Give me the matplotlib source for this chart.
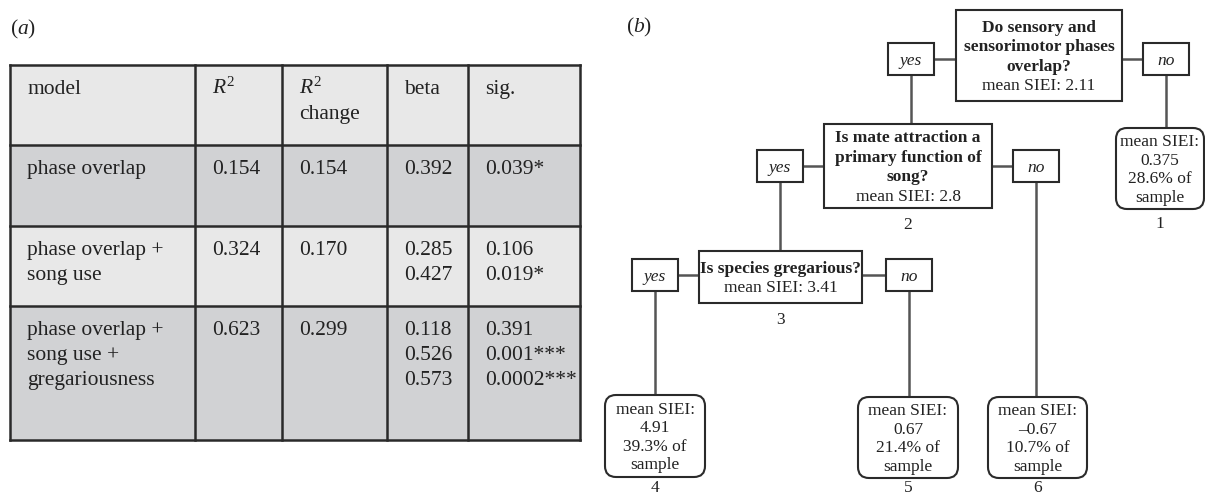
import matplotlib

matplotlib.use("Agg")
import matplotlib.pyplot as plt
from matplotlib.patches import FancyBboxPatch, Rectangle

plt.rcParams["font.family"] = ["Liberation Serif", "DejaVu Serif"]
plt.rcParams["mathtext.fontset"] = "custom"
plt.rcParams["mathtext.rm"] = "Liberation Serif"
plt.rcParams["mathtext.it"] = "Liberation Serif:italic"

# (a) hierarchical regression table
header = ["model", "$R^2$", "$R^2$\nchange", "beta", "sig."]
models = ["phase overlap", "phase overlap +\nsong use",
          "phase overlap +\nsong use +\ngregariousness"]
r_squared = ["0.154", "0.324", "0.623"]
r_squared_change = ["0.154", "0.170", "0.299"]
betas = [["0.392"], ["0.285", "0.427"], ["0.118", "0.526", "0.573"]]
sigs = [["0.039*"], ["0.106", "0.019*"], ["0.391", "0.001***", "0.0002***"]]

# (b) regression tree
questions = ["Do sensory and\nsensorimotor phases\noverlap?",
             "Is mate attraction a\nprimary function of\nsong?",
             "Is species gregarious?"]
question_means = ["2.11", "2.8", "3.41"]
question_ids = ["", "2", "3"]
leaf_means = ["0.375", "4.91", "0.67", "\u20130.67"]
leaf_shares = ["28.6", "39.3", "21.4", "10.7"]
leaf_ids = ["1", "4", "5", "6"]

# layout (pixels, origin top left)
W, H = 1205, 495
TABLE_X = [10, 195, 282, 387, 468, 580]
TABLE_Y = [65, 145, 226, 306, 440]
ROW_COLORS = ["#e8e8e8", "#d1d2d4", "#e8e8e8", "#d1d2d4"]
TABLE_FS = 15.5
TREE_FS = 12.5

QUESTION_BOXES = [(956, 10, 1122, 101), (824, 124, 992, 208), (699, 251, 862, 303)]
LEAF_BOXES = [(1116, 128, 1204, 209), (605, 395, 705, 477),
              (858, 397, 958, 478), (988, 397, 1087, 478)]
ANSWER_BOXES = [(911, 59, "yes"), (1166, 59, "no"), (780, 166, "yes"),
                (1036, 166, "no"), (655, 275, "yes"), (909, 275, "no")]
ANSWER_W, ANSWER_H = 46, 32
# child of each answer box: ("q", index) or ("leaf", index)
CHILDREN = [("q", 1), ("leaf", 0), ("q", 2), ("leaf", 3), ("leaf", 1), ("leaf", 2)]

EDGE = "#2a2a2a"
LINK = "#555555"
TEXT = "#222222"


def px(pt):
    return pt * 100 / 72


def text_lines(ax, x, yc, lines, spacing, fs, weights=None, **kw):
    """Write lines centred around yc, one text object per line."""
    n = len(lines)
    for i, line in enumerate(lines):
        y = yc + (i - (n - 1) / 2) * spacing + 0.33 * px(fs)
        w = weights[i] if weights else "normal"
        ax.text(x, y, line, ha="center", va="baseline", fontsize=fs,
                fontweight=w, color=TEXT, **kw)


def draw_table(ax):
    rows = [header] + [
        [models[i], r_squared[i], r_squared_change[i], "\n".join(betas[i]), "\n".join(sigs[i])]
        for i in range(len(models))
    ]
    x0, x1 = TABLE_X[0], TABLE_X[-1]
    for r, cells in enumerate(rows):
        top, bottom = TABLE_Y[r], TABLE_Y[r + 1]
        ax.add_patch(Rectangle((x0, top), x1 - x0, bottom - top,
                               facecolor=ROW_COLORS[r], edgecolor="none"))
        for c, cell in enumerate(cells):
            for k, line in enumerate(cell.split("\n")):
                ax.text(TABLE_X[c] + 17, top + 29 + k * 25, line, ha="left",
                        va="baseline", fontsize=TABLE_FS, color=TEXT)
    for y in TABLE_Y:
        ax.plot([x0, x1], [y, y], color=EDGE, lw=1.8, solid_capstyle="projecting")
    for x in TABLE_X:
        ax.plot([x, x], [TABLE_Y[0], TABLE_Y[-1]], color=EDGE, lw=1.8,
                solid_capstyle="projecting")


def draw_tree(ax):
    # connectors first so boxes sit on top
    for a, (cx, cy, label) in enumerate(ANSWER_BOXES):
        q = QUESTION_BOXES[a // 2]
        if label == "yes":
            ax.plot([cx + ANSWER_W / 2, q[0]], [cy, cy], color=LINK, lw=1.8, zorder=1)
        else:
            ax.plot([q[2], cx - ANSWER_W / 2], [cy, cy], color=LINK, lw=1.8, zorder=1)
        kind, idx = CHILDREN[a]
        child = QUESTION_BOXES[idx] if kind == "q" else LEAF_BOXES[idx]
        ax.plot([cx, cx], [cy + ANSWER_H / 2, child[1]], color=LINK, lw=1.8, zorder=1)

    for i, (x0, y0, x1, y1) in enumerate(QUESTION_BOXES):
        ax.add_patch(Rectangle((x0, y0), x1 - x0, y1 - y0, facecolor="white",
                               edgecolor=EDGE, lw=1.5, zorder=2))
        lines = questions[i].split("\n") + [f"mean SIEI: {question_means[i]}"]
        weights = ["bold"] * (len(lines) - 1) + ["normal"]
        text_lines(ax, (x0 + x1) / 2, (y0 + y1) / 2, lines, 19.5, TREE_FS,
                   weights, zorder=3)
        if question_ids[i]:
            text_lines(ax, (x0 + x1) / 2, y1 + 15, [question_ids[i]], 0, TREE_FS)

    for i, (x0, y0, x1, y1) in enumerate(LEAF_BOXES):
        ax.add_patch(FancyBboxPatch((x0, y0), x1 - x0, y1 - y0,
                                    boxstyle="round,pad=0,rounding_size=11",
                                    facecolor="white", edgecolor=EDGE, lw=1.5, zorder=2))
        lines = ["mean SIEI:", leaf_means[i], f"{leaf_shares[i]}% of", "sample"]
        text_lines(ax, (x0 + x1) / 2, (y0 + y1) / 2, lines, 18.5, TREE_FS, zorder=3)
        text_lines(ax, (x0 + x1) / 2, min(y1 + 13, H - 9), [leaf_ids[i]], 0, TREE_FS)

    for cx, cy, label in ANSWER_BOXES:
        ax.add_patch(Rectangle((cx - ANSWER_W / 2, cy - ANSWER_H / 2), ANSWER_W, ANSWER_H,
                               facecolor="white", edgecolor=EDGE, lw=1.5, zorder=2))
        text_lines(ax, cx, cy, [label], 0, TREE_FS, style="italic", zorder=3)


fig = plt.figure(figsize=(W / 100, H / 100), dpi=100)
ax = fig.add_axes([0, 0, 1, 1])
ax.set_xlim(0, W)
ax.set_ylim(H, 0)
ax.axis("off")

ax.text(10, 27 + 0.33 * px(15.5), r"($a$)", fontsize=15.5, color=TEXT, va="baseline")
ax.text(626, 25 + 0.33 * px(15.5), r"($b$)", fontsize=15.5, color=TEXT, va="baseline")

draw_table(ax)
draw_tree(ax)

fig.savefig("out.png", dpi=100)
